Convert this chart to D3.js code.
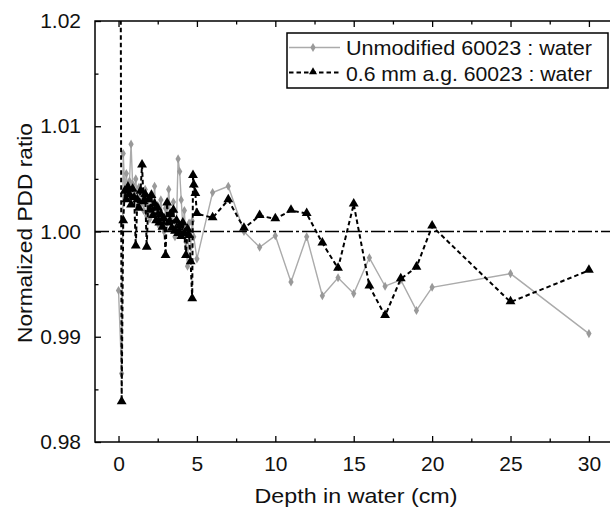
<!DOCTYPE html>
<html>
<head>
<meta charset="utf-8">
<script src="https://cdn.jsdelivr.net/npm/d3@7"></script>
<style>
  html, body { margin: 0; padding: 0; background: #fff; }
  svg { display: block; }
  text { font-family: Arial, "Liberation Sans", Helvetica, sans-serif; fill: #111; }
</style>
</head>
<body>
<svg id="chart" width="610" height="511"></svg>
<script>
// ---------------- data ----------------
const xTicks = [0, 5, 10, 15, 20, 25, 30];
const xMinorTicks = [2.5, 7.5, 12.5, 17.5, 22.5, 27.5];
const yTicks = [0.98, 0.99, 1.00, 1.01, 1.02];
const yTickLabels = ["0.98", "0.99", "1.00", "1.01", "1.02"];
const yMinorTicks = [0.985, 0.995, 1.005, 1.015];

const seriesNames = ["Unmodified 60023 : water", "0.6 mm a.g. 60023 : water"];

const unmodDepth = [0, 0.2, 0.3, 0.4, 0.5, 0.6, 0.7, 0.8, 0.9, 1.0, 1.1, 1.2, 1.3, 1.4, 1.5, 1.6, 1.7, 1.8, 1.9,
  2.0, 2.1, 2.2, 2.3, 2.4, 2.5, 2.6, 2.7, 2.8, 2.9, 3.0, 3.1, 3.2, 3.3, 3.4, 3.5, 3.6, 3.7, 3.8, 3.9,
  4.0, 4.1, 4.2, 4.3, 4.4, 4.5, 4.6, 4.7, 4.8, 5.0,
  6, 7, 8, 9, 10, 11, 12, 13, 14, 15, 16, 17, 18, 19, 20, 25, 30];
const unmodValue = [0.9944, 0.9865, 1.0074, 1.0040, 1.0055, 1.0035, 1.0048, 1.0083, 1.0045, 1.0038, 1.0050, 1.0030, 1.0042, 1.0025, 1.0036, 1.0020, 1.0040, 1.0015, 1.0030,
  1.0012, 1.0036, 1.0020, 1.0043, 1.0010, 1.0025, 1.0005, 1.0030, 1.0012, 1.0000, 1.0022, 1.0008, 1.0040, 1.0015, 1.0002, 1.0028, 0.9995, 1.0010, 1.0069, 1.0057,
  1.0030, 1.0005, 1.0020, 0.9990, 0.9967, 1.0008, 0.9985, 1.0010, 0.9995, 0.9974,
  1.0037, 1.0043, 1.0000, 0.9985, 0.9996, 0.9952, 0.9995, 0.9939, 0.9956, 0.9941, 0.9975, 0.9948, 0.9954, 0.9925, 0.9947, 0.9960, 0.9903];

const agDepth = [0.1, 0.2, 0.3, 0.4, 0.5, 0.6, 0.7, 0.8, 0.9, 1.0, 1.1, 1.2, 1.3, 1.4, 1.5, 1.6, 1.7, 1.8, 1.9,
  2.0, 2.1, 2.2, 2.3, 2.4, 2.5, 2.6, 2.7, 2.8, 2.9, 3.0, 3.1, 3.2, 3.3, 3.4, 3.5, 3.6, 3.7, 3.8, 3.9,
  4.0, 4.1, 4.2, 4.3, 4.4, 4.5, 4.6, 4.7, 4.75, 4.8, 4.9, 5.0,
  6, 7, 8, 9, 10, 11, 12, 13, 14, 15, 16, 17, 18, 19, 20, 25, 30];
const agValue = [1.0500, 0.9838, 1.0010, 1.0038, 1.0030, 1.0042, 1.0035, 1.0025, 1.0040, 1.0032, 0.9986, 1.0030, 1.0022, 1.0038, 1.0063, 1.0028, 1.0035, 0.9985, 1.0030,
  1.0020, 1.0034, 1.0015, 1.0026, 1.0010, 1.0022, 1.0008, 1.0016, 1.0004, 1.0012, 0.9977, 1.0027, 1.0008, 1.0016, 1.0003, 1.0020, 1.0000, 1.0010, 0.9998, 1.0005,
  0.9995, 1.0008, 0.9998, 0.9977, 1.0002, 0.9996, 0.9971, 0.9936, 1.0053, 1.0044, 1.0036, 1.0017,
  1.0013, 1.0030, 1.0003, 1.0015, 1.0012, 1.0020, 1.0017, 0.9989, 0.9965, 1.0026, 0.9948, 0.9920, 0.9955, 0.9966, 1.0005, 0.9933, 0.9963];

const referenceValue = 1.00;

// ---------------- layout ----------------
const svg = d3.select("#chart");
const plot = { left: 95, top: 21, right: 612, bottom: 442 };

const x = d3.scaleLinear().domain([-1.5, 31.4]).range([plot.left, plot.left + 32.9 * 15.68]);
const y = d3.scaleLinear().domain([0.98, 1.02]).range([plot.bottom, plot.top]);

svg.append("defs").append("clipPath").attr("id", "plotClip")
  .append("rect")
  .attr("x", plot.left).attr("y", plot.top)
  .attr("width", plot.right - plot.left).attr("height", plot.bottom - plot.top);

const g = svg.append("g").attr("clip-path", "url(#plotClip)");

const unmod = unmodDepth.map((d, i) => ({ d, v: unmodValue[i] }));
const ag = agDepth.map((d, i) => ({ d, v: agValue[i] }));

const line = d3.line().x(p => x(p.d)).y(p => y(p.v));

// grey series
g.append("path").datum(unmod)
  .attr("d", line).attr("fill", "none")
  .attr("stroke", "#ababab").attr("stroke-width", 1.4);
const diamond = d3.symbol().type(d3.symbolDiamond).size(24);
g.selectAll(".gm").data(unmod).enter().append("path")
  .attr("transform", p => `translate(${x(p.d)},${y(p.v)})`)
  .attr("d", diamond).attr("fill", "#999").attr("stroke", "none");

// black series
g.append("path").datum(ag)
  .attr("d", line).attr("fill", "none")
  .attr("stroke", "#000").attr("stroke-width", 2)
  .attr("stroke-dasharray", "4.5,3");
const tri = d3.symbol().type(d3.symbolTriangle).size(42);
g.selectAll(".bm").data(ag).enter().append("path")
  .attr("transform", p => `translate(${x(p.d)},${y(p.v) - 0.5})`)
  .attr("d", tri).attr("fill", "#000");

// reference line at 1.00
svg.append("line")
  .attr("x1", plot.left).attr("x2", plot.right)
  .attr("y1", y(referenceValue)).attr("y2", y(referenceValue))
  .attr("stroke", "#000").attr("stroke-width", 1.6)
  .attr("stroke-dasharray", "14,3,3,3");

// ---------------- axes ----------------
const axisG = svg.append("g");
const bottomAxis = d3.axisBottom(x).tickValues(xTicks).tickFormat(d3.format("d")).tickSize(-6).tickPadding(14);
axisG.append("g").attr("transform", `translate(0,${plot.bottom})`).call(bottomAxis)
  .call(a => a.select(".domain").remove())
  .call(a => a.selectAll("text").attr("font-size", 21).attr("font-family", "Arial, 'Liberation Sans', sans-serif").attr("fill", "#111"));
axisG.append("g").attr("transform", `translate(0,${plot.bottom})`)
  .call(d3.axisBottom(x).tickValues(xMinorTicks).tickFormat("").tickSize(-3.5))
  .call(a => a.select(".domain").remove());
axisG.append("g").attr("transform", `translate(0,${plot.top})`)
  .call(d3.axisTop(x).tickValues(xTicks).tickFormat("").tickSize(-6))
  .call(a => a.select(".domain").remove());
axisG.append("g").attr("transform", `translate(0,${plot.top})`)
  .call(d3.axisTop(x).tickValues(xMinorTicks).tickFormat("").tickSize(-3.5))
  .call(a => a.select(".domain").remove());

const leftAxis = d3.axisLeft(y).tickValues(yTicks).tickFormat((d, i) => yTickLabels[i]).tickSize(-6).tickPadding(14);
axisG.append("g").attr("transform", `translate(${plot.left},0)`).call(leftAxis)
  .call(a => a.select(".domain").remove())
  .call(a => a.selectAll("text").attr("font-size", 21).attr("font-family", "Arial, 'Liberation Sans', sans-serif").attr("fill", "#111"));
axisG.append("g").attr("transform", `translate(${plot.left},0)`)
  .call(d3.axisLeft(y).tickValues(yMinorTicks).tickFormat("").tickSize(-3.5))
  .call(a => a.select(".domain").remove());
axisG.selectAll(".tick line").attr("stroke", "#000").attr("stroke-width", 1.3);

// frame
svg.append("rect")
  .attr("x", plot.left).attr("y", plot.top)
  .attr("width", plot.right - plot.left).attr("height", plot.bottom - plot.top)
  .attr("fill", "none").attr("stroke", "#000").attr("stroke-width", 1.5);

// axis titles
svg.append("text").attr("x", 356).attr("y", 503).attr("text-anchor", "middle")
  .attr("font-size", 21).attr("textLength", 203).attr("lengthAdjust", "spacingAndGlyphs")
  .text("Depth in water (cm)");
svg.append("text").attr("transform", "translate(32,233) rotate(-90)").attr("text-anchor", "middle")
  .attr("font-size", 21).attr("textLength", 220).attr("lengthAdjust", "spacingAndGlyphs")
  .text("Normalized PDD ratio");

// ---------------- legend ----------------
const lg = svg.append("g");
lg.append("rect").attr("x", 287).attr("y", 33).attr("width", 321).attr("height", 55)
  .attr("fill", "#fff").attr("stroke", "#000").attr("stroke-width", 1.5);
lg.append("line").attr("x1", 289).attr("x2", 340).attr("y1", 47.5).attr("y2", 47.5)
  .attr("stroke", "#ababab").attr("stroke-width", 1.4);
lg.append("path").attr("transform", "translate(313,47.5)").attr("d", diamond).attr("fill", "#999");
lg.append("line").attr("x1", 289).attr("x2", 340).attr("y1", 72.5).attr("y2", 72.5)
  .attr("stroke", "#000").attr("stroke-width", 2).attr("stroke-dasharray", "4.5,3");
lg.append("path").attr("transform", "translate(313,72)").attr("d", d3.symbol().type(d3.symbolTriangle).size(28)).attr("fill", "#000");
lg.append("text").attr("x", 346).attr("y", 55).attr("font-size", 21)
  .attr("textLength", 246).attr("lengthAdjust", "spacingAndGlyphs").text(seriesNames[0]);
lg.append("text").attr("x", 346).attr("y", 80.5).attr("font-size", 21)
  .attr("textLength", 246).attr("lengthAdjust", "spacingAndGlyphs").text(seriesNames[1]);
</script>
</body>
</html>
